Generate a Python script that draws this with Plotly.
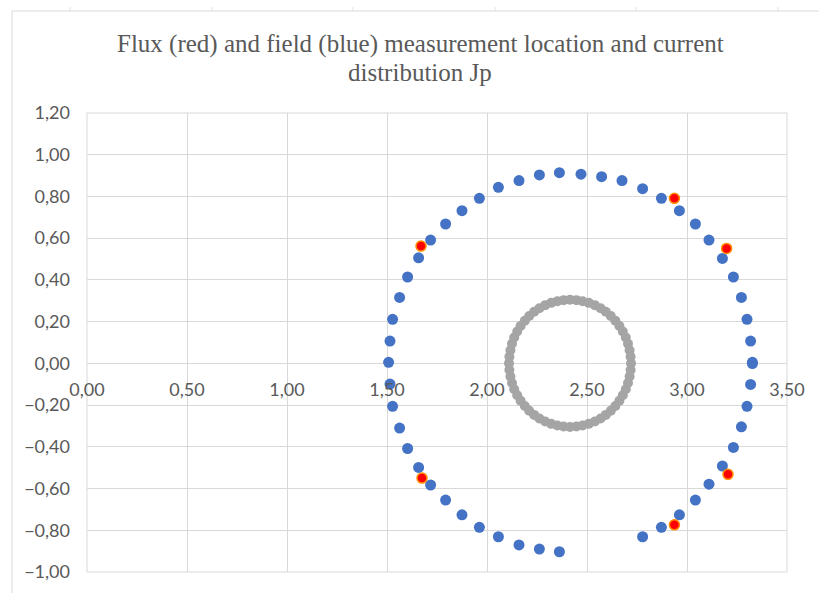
import plotly.graph_objects as go

# Field (blue) measurement locations
field_x = [1.508, 1.515, 1.528, 1.563, 1.603, 1.658, 1.718, 1.793, 1.875, 1.962, 2.057, 2.160, 2.262, 2.362,
           2.470, 2.573, 2.675, 2.778, 2.872, 2.962, 3.042, 3.110, 3.177, 3.232, 3.272, 3.300, 3.318, 3.327,
           3.327, 3.318, 3.300, 3.272, 3.232, 3.177, 3.110, 3.042, 2.962, 2.872, 2.778,
           2.362, 2.262, 2.160, 2.057, 1.962, 1.875, 1.793, 1.718, 1.658, 1.603, 1.563, 1.528, 1.515]
field_y = [0.005, 0.107, 0.211, 0.316, 0.414, 0.506, 0.591, 0.668, 0.732, 0.791, 0.844, 0.876, 0.903, 0.914,
           0.907, 0.895, 0.876, 0.837, 0.791, 0.732, 0.668, 0.591, 0.503, 0.414, 0.316, 0.211, 0.107, 0.005,
           -0.001, -0.101, -0.206, -0.304, -0.403, -0.492, -0.579, -0.655, -0.726, -0.786, -0.831,
           -0.903, -0.890, -0.870, -0.831, -0.786, -0.726, -0.655, -0.583, -0.499, -0.408, -0.310, -0.206, -0.099]

# Flux (red) measurement locations
flux_x = [1.670, 2.937, 3.198, 3.205, 2.937, 1.675]
flux_y = [0.562, 0.791, 0.551, -0.532, -0.774, -0.550]

# Current distribution Jp (grey)
jp_x = [2.720, 2.718, 2.713, 2.705, 2.694, 2.679, 2.662, 2.642, 2.619, 2.594, 2.568, 2.539, 2.509, 2.478, 2.447,
        2.415, 2.383, 2.352, 2.321, 2.291, 2.262, 2.236, 2.211, 2.189, 2.168, 2.151, 2.136, 2.125, 2.117, 2.112,
        2.110, 2.112, 2.117, 2.125, 2.136, 2.151, 2.168, 2.189, 2.211, 2.236, 2.262, 2.291, 2.321, 2.352, 2.383,
        2.415, 2.447, 2.478, 2.509, 2.539, 2.568, 2.594, 2.619, 2.642, 2.662, 2.679, 2.694, 2.705, 2.713, 2.718]
jp_y = [0.000, 0.032, 0.063, 0.094, 0.124, 0.153, 0.179, 0.204, 0.227, 0.247, 0.264, 0.279, 0.290, 0.298, 0.303,
        0.305, 0.303, 0.298, 0.290, 0.279, 0.264, 0.247, 0.227, 0.204, 0.179, 0.153, 0.124, 0.094, 0.063, 0.032,
        0.000, -0.032, -0.063, -0.094, -0.124, -0.153, -0.179, -0.204, -0.227, -0.247, -0.264, -0.279, -0.290, -0.298, -0.303,
        -0.305, -0.303, -0.298, -0.290, -0.279, -0.264, -0.247, -0.227, -0.204, -0.179, -0.153, -0.124, -0.094, -0.063, -0.032]

title_lines = ["Flux (red) and field (blue) measurement location and current", "distribution Jp"]

GRID = "#D9D9D9"
TXT = "#595959"

fig = go.Figure()
fig.add_trace(go.Scatter(x=jp_x, y=jp_y, mode="markers",
                         marker=dict(size=10, color="#A5A5A5"), name="Jp"))
fig.add_trace(go.Scatter(x=field_x, y=field_y, mode="markers",
                         marker=dict(size=11, color="#4472C4"), name="field"))
fig.add_trace(go.Scatter(x=flux_x, y=flux_y, mode="markers",
                         marker=dict(size=10, color="#FF0000", line=dict(color="#FF8C00", width=1.5)), name="flux"))

W, H = 819, 593
L, R, T, B = 87, 32, 113, 21
pw, ph = W - L - R, H - T - B

def px(xp):
    return (xp - L) / pw

def py(yp):
    return (H - B - yp) / ph

shapes = [
    dict(type="rect", xref="paper", yref="paper", x0=0, x1=1, y0=0, y1=1,
         line=dict(color=GRID, width=1), layer="below"),
    dict(type="line", xref="paper", yref="paper", x0=px(12), x1=px(12), y0=py(11), y1=py(600),
         line=dict(color=GRID, width=1)),
    dict(type="line", xref="paper", yref="paper", x0=px(12), x1=px(830), y0=py(11), y1=py(11),
         line=dict(color=GRID, width=1)),
]
for cx in [70, 212, 353, 495, 636, 778]:
    shapes.append(dict(type="line", xref="paper", yref="paper", x0=px(cx), x1=px(cx), y0=py(7), y1=py(11),
                       line=dict(color="#E0E0E0", width=1)))

annotations = []
for txt, yc in zip(title_lines, [44, 73]):
    annotations.append(dict(text=txt, xref="paper", yref="paper", x=px(420), y=py(yc),
                            xanchor="center", yanchor="middle", showarrow=False,
                            font=dict(family="Liberation Serif", size=25, color=TXT)))

fig.update_layout(
    width=W, height=H,
    margin=dict(l=L, r=R, t=T, b=B),
    paper_bgcolor="white", plot_bgcolor="white",
    showlegend=False,
    separators=",.",
    shapes=shapes,
    annotations=annotations,
    font=dict(family="Lato", size=18, color=TXT),
)
fig.update_xaxes(range=[0, 3.5], dtick=0.5, tick0=0, tickformat=".2f", showgrid=True, gridcolor=GRID,
                 zeroline=False, showline=False, anchor="free", position=1 / 2.2,
                 ticks="", ticklabelstandoff=14, tickfont=dict(family="Lato", size=18, color=TXT))
fig.update_yaxes(range=[-1, 1.2], dtick=0.2, tick0=0, tickformat=".2f", showgrid=True, gridcolor=GRID,
                 zeroline=True, zerolinecolor=GRID, zerolinewidth=1, showline=False,
                 ticks="", ticklabelstandoff=16, tickfont=dict(family="Lato", size=18, color=TXT))

fig.write_html("out.html")
